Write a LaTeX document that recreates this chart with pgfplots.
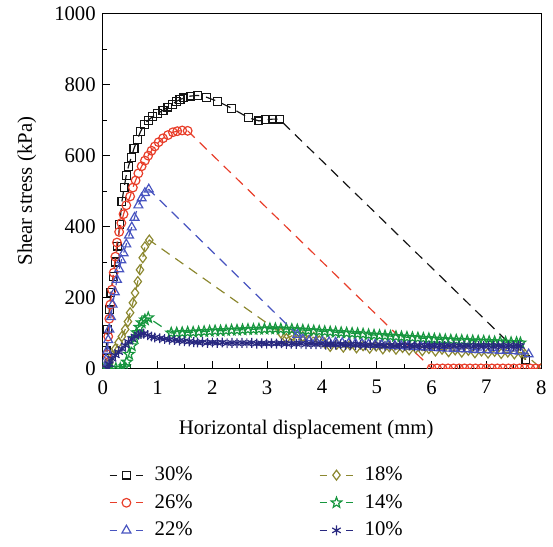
\documentclass[border=0pt]{standalone}
\usepackage{fontspec}
\setmainfont{Liberation Serif}
\usepackage{pgfplots}
\pgfplotsset{compat=1.18}

\definecolor{cBlack}{RGB}{20,20,20}
\definecolor{cRed}{RGB}{232,62,42}
\definecolor{cBlue}{RGB}{72,84,192}
\definecolor{cOlive}{RGB}{140,136,48}
\definecolor{cGreen}{RGB}{22,150,62}
\definecolor{cNavy}{RGB}{40,40,128}

% open five-pointed star
\pgfdeclareplotmark{ostar}{%
  \pgfpathmoveto{\pgfpointpolar{90}{\pgfplotmarksize}}%
  \pgfpathlineto{\pgfpointpolar{126}{0.42\pgfplotmarksize}}%
  \pgfpathlineto{\pgfpointpolar{162}{\pgfplotmarksize}}%
  \pgfpathlineto{\pgfpointpolar{198}{0.42\pgfplotmarksize}}%
  \pgfpathlineto{\pgfpointpolar{234}{\pgfplotmarksize}}%
  \pgfpathlineto{\pgfpointpolar{270}{0.42\pgfplotmarksize}}%
  \pgfpathlineto{\pgfpointpolar{306}{\pgfplotmarksize}}%
  \pgfpathlineto{\pgfpointpolar{342}{0.42\pgfplotmarksize}}%
  \pgfpathlineto{\pgfpointpolar{18}{\pgfplotmarksize}}%
  \pgfpathlineto{\pgfpointpolar{54}{0.42\pgfplotmarksize}}%
  \pgfpathclose
  \pgfusepathqstroke}

\begin{document}
\begin{tikzpicture}
\begin{axis}[
  scale only axis,
  width=222pt, height=179.5pt,
  xmin=0, xmax=8, ymin=0, ymax=1000,
  xtick={0,1,...,8}, ytick={0,200,...,1000},
  minor x tick num=1, minor y tick num=1,
  tick align=inside, xtick pos=bottom, ytick pos=left,
  major tick length=3.5pt, minor tick length=2pt,
  axis line style={line width=0.6pt},
  tick style={line width=0.5pt, black},
  /pgf/number format/assume math mode=true,
  /pgf/number format/1000 sep={},
  tick label style={font=\fontsize{10.5}{12}\selectfont},
  label style={font=\fontsize{10.5}{12}\selectfont},
  xticklabel style={yshift=-2.5pt},
  xlabel={Horizontal displacement (mm)},
  ylabel={Shear stress (kPa)},
  x label style={at={(axis description cs:0.464,-0.173)}, anchor=center},
  y label style={at={(axis description cs:-0.173,0.5)}, anchor=center},
  clip marker paths=true,
  every axis plot/.append style={line width=0.6pt, dash pattern=on 5pt off 3.5pt},
  legend columns=2,
  legend cell align=left,
  legend style={draw=none, fill=none, at={(axis description cs:0.0,-0.254)},
    anchor=north west, row sep=1.5pt, font=\fontsize{10.5}{12}\selectfont,
    /tikz/every odd column/.append style={column sep=3.5pt},
    /tikz/every even column/.append style={column sep=62pt}},
  legend image code/.code={%
    \draw[mark repeat=2,mark phase=2,#1,dash pattern=on 3.5pt off 10pt]
      plot coordinates {(0pt,0pt) (8.5pt,0pt) (17pt,0pt)};},
]
% 30 %
\addplot[cBlack, mark=square, mark size=2pt, mark options={solid}] coordinates {
(0.03,0) (0.06,50) (0.09,110) (0.12,165) (0.15,215) (0.19,260) (0.23,300) (0.27,345)
(0.31,405) (0.35,470) (0.39,510) (0.43,545) (0.47,570) (0.52,595) (0.57,620) (0.63,645)
(0.69,668) (0.76,688) (0.83,700) (0.91,710) (1.00,719) (1.10,728) (1.19,737) (1.27,745)
(1.34,753) (1.41,758) (1.48,763) (1.60,768) (1.73,770) (1.89,765) (2.10,753) (2.35,734)
(2.66,707) (2.85,698) (2.97,701) (3.10,703) (3.22,703) (7.72,25)
};
\addlegendentry{30\%}
% 18 %
\addplot[cOlive, mark=diamond, mark size=2.5pt, mark options={solid}] coordinates {
(0.08,0) (0.12,15) (0.17,36) (0.23,55) (0.29,73) (0.35,90) (0.41,110) (0.46,132)
(0.50,157) (0.55,185) (0.59,213) (0.64,245) (0.68,278) (0.73,312) (0.77,343) (0.85,362)
(3.25,100) (3.35,84) (3.45,92) (3.55,80) (3.65,90) (3.75,79) (3.85,88) (3.95,78)
(4.05,72) (4.15,62) (4.27,68) (4.39,60) (4.51,66) (4.63,58) (4.75,64) (4.87,57)
(4.99,63) (5.11,55) (5.23,61) (5.35,54) (5.47,59) (5.59,52) (5.71,57) (5.83,50)
(5.95,56) (6.07,49) (6.19,54) (6.31,47) (6.43,52) (6.55,46) (6.67,51) (6.79,44)
(6.91,49) (7.03,43) (7.15,48) (7.27,42) (7.39,46) (7.51,41) (7.63,45) (7.70,40) (8.00,0)
};
\addlegendentry{18\%}
% 26 %
\addplot[cRed, mark=o, mark size=2.2pt, mark options={solid}] coordinates {
(0.06,0) (0.08,40) (0.10,90) (0.12,140) (0.14,180) (0.17,222) (0.20,270) (0.23,315)
(0.26,355) (0.30,385) (0.34,410) (0.38,435) (0.43,460) (0.50,485) (0.55,510) (0.60,530)
(0.65,550) (0.71,570) (0.77,586) (0.83,600) (0.89,614) (0.95,626) (1.02,638) (1.10,649)
(1.19,658) (1.28,666) (1.36,669) (1.45,671) (1.55,670)
(6.0,0) (6.1,0) (6.2,0) (6.3,0) (6.4,0) (6.5,0) (6.6,0) (6.7,0) (6.8,0) (6.9,0) (7.0,0)
(7.1,0) (7.2,0) (7.3,0) (7.4,0) (7.5,0) (7.6,0) (7.7,0) (7.8,0) (7.9,0) (8.0,0)
};
\addlegendentry{26\%}
% 14 %
\addplot[cGreen, mark=ostar, mark size=2.8pt, mark options={solid}] coordinates {
(0,0) (0.08,0) (0.16,0) (0.24,0) (0.32,0) (0.40,5) (0.44,18) (0.48,40) (0.53,64)
(0.58,85) (0.62,101) (0.67,116) (0.71,129) (0.77,137) (0.83,143)
(1.25,100) (1.35,100) (1.45,101) (1.55,102) (1.65,102) (1.75,103) (1.85,104) (1.95,105)
(2.05,106) (2.15,106) (2.25,107) (2.35,108) (2.45,108) (2.55,109) (2.65,110) (2.75,110)
(2.85,111) (2.95,111) (3.05,112) (3.15,112) (3.25,111) (3.35,111) (3.45,110) (3.55,109)
(3.65,108) (3.75,107) (3.85,106) (3.95,105) (4.05,104) (4.15,103) (4.25,102) (4.35,101)
(4.45,100) (4.55,99) (4.65,98) (4.75,97) (4.85,95) (4.95,94) (5.05,93) (5.15,92)
(5.25,91) (5.35,90) (5.45,89) (5.55,88) (5.65,87) (5.75,86) (5.85,85) (5.95,84)
(6.05,83) (6.15,82) (6.25,81) (6.35,80) (6.45,80) (6.55,79) (6.65,78) (6.75,78)
(6.85,77) (6.95,77) (7.05,76) (7.15,75) (7.25,75) (7.35,74) (7.45,73) (7.55,73) (7.62,72)
};
\addlegendentry{14\%}
% 22 %
\addplot[cBlue, mark=triangle, mark size=2.6pt, mark options={solid}] coordinates {
(0.04,0) (0.06,25) (0.08,50) (0.10,80) (0.12,110) (0.15,145) (0.18,180) (0.22,215)
(0.26,250) (0.30,280) (0.34,305) (0.38,325) (0.43,350) (0.48,375) (0.53,398) (0.58,425)
(0.65,460) (0.71,480) (0.77,495) (0.84,505)
(3.55,95) (3.65,82) (3.77,78) (3.89,76) (4.01,75) (4.13,74) (4.25,73) (4.37,72)
(4.49,71) (4.61,70) (4.73,69) (4.85,68) (4.97,67) (5.09,66) (5.21,65) (5.33,64)
(5.45,63) (5.57,62) (5.69,61) (5.81,60) (5.93,59) (6.05,58) (6.17,57) (6.29,56)
(6.41,55) (6.53,55) (6.65,54) (6.77,53) (6.89,52) (7.01,52) (7.13,51) (7.25,50)
(7.37,50) (7.49,49) (7.61,48) (7.77,40)
};
\addlegendentry{22\%}
% 10 %
\addplot[cNavy, mark=asterisk, mark size=2.5pt, mark options={solid}] coordinates {
(0.08,0) (0.12,12) (0.17,27) (0.23,37) (0.29,46) (0.35,55) (0.41,65) (0.47,75)
(0.53,83) (0.59,90) (0.65,95) (0.70,97) (0.75,98) (0.82,94) (0.89,90) (0.95,87)
(1.04,85) (1.13,83) (1.22,81) (1.31,80) (1.40,78) (1.49,77) (1.58,76) (1.66,74) (1.73,73)
(1.82,74) (1.91,72) (2.00,73) (2.09,72) (2.18,73) (2.27,71) (2.36,72) (2.45,71)
(2.54,72) (2.63,71) (2.72,72) (2.81,70) (2.90,71) (2.99,70) (3.08,71) (3.17,70)
(3.26,71) (3.35,69) (3.44,70) (3.53,69) (3.62,70) (3.71,68) (3.80,69) (3.89,68)
(3.98,69) (4.07,67) (4.16,68) (4.25,67) (4.34,68) (4.43,66) (4.52,67) (4.61,66)
(4.70,67) (4.79,65) (4.88,66) (4.97,65) (5.06,66) (5.15,64) (5.24,65) (5.33,64)
(5.42,65) (5.51,64) (5.60,65) (5.69,63) (5.78,64) (5.87,63) (5.96,64) (6.05,63)
(6.14,64) (6.23,63) (6.32,64) (6.41,63) (6.50,64) (6.59,63) (6.68,64) (6.77,63)
(6.86,64) (6.95,63) (7.04,64) (7.13,63) (7.22,64) (7.31,63) (7.40,64) (7.49,63)
(7.58,64) (7.62,63)
};
\addlegendentry{10\%}
\end{axis}
\path ([xshift=-52pt,yshift=-84.5pt]current axis.south west)
  rectangle ([xshift=2.5pt,yshift=7pt]current axis.north east);
\end{tikzpicture}
\end{document}
